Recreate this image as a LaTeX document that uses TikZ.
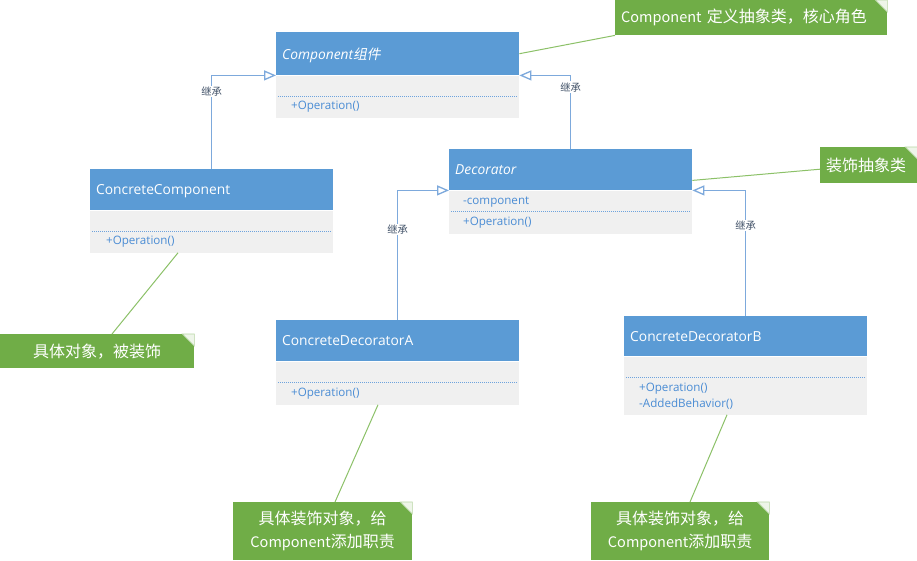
\documentclass[tikz,border=0pt]{standalone}
\usepackage{fontspec}
\setmainfont{Open Sans}
\newfontfamily\cjk{Noto Sans CJK SC}
\newfontfamily\cjkit[FakeSlant=0.2]{Noto Sans CJK SC}
\usetikzlibrary{arrows.meta,calc}
\definecolor{hdrblue}{HTML}{5B9BD5}
\definecolor{bodygray}{HTML}{F0F0F0}
\definecolor{memblue}{HTML}{4A8CD4}
\definecolor{linkblue}{HTML}{7DA9DC}
\definecolor{notegreen}{HTML}{70AD47}
\definecolor{notelink}{HTML}{8CC168}
\definecolor{foldpale}{HTML}{EEF5E9}
\definecolor{labelgray}{HTML}{44546A}
\newcommand\notefold[1]{%
  \filldraw[fill=foldpale, draw=notegreen!50, line width=0.6pt]
    ([xshift=-12pt]#1.north east) -- (#1.north east) -- ([yshift=-12pt]#1.north east) -- cycle;}
\newcommand\latcomp{{\fontsize{14.5}{23}\selectfont Component}}
\begin{document}
\begin{tikzpicture}[x=1pt,y=-1pt,
  hdr/.style={rectangle, fill=hdrblue, anchor=north west, text=white,
    font=\fontsize{13.8}{16}\selectfont, align=left, text width=231pt,
    text height=12pt, text depth=1.5pt,
    inner xsep=6pt, inner ysep=0pt},
  cbody/.style={rectangle, fill=bodygray, anchor=north west, minimum width=243pt, inner sep=0pt},
  member/.style={anchor=west, inner sep=0pt, text=memblue, font=\fontsize{11.6}{14}\selectfont},
  sepline/.style={draw=memblue!80, dash pattern=on 1pt off 1pt, line width=0.9pt},
  inherit/.style={draw=linkblue, line width=1.3pt, -{Triangle[open, length=12pt, width=10pt, fill=white]}},
  inhlabel/.style={fill=white, text=labelgray, font=\cjk\fontsize{10.3}{12}\selectfont, inner sep=1pt},
  note/.style={rectangle, fill=notegreen, anchor=north west, text=white,
    font=\cjk\fontsize{16}{23}\selectfont, inner sep=0pt},
  notelinkst/.style={draw=notelink, line width=1pt}
]
\fill[white] (0,0) rectangle (917,560);
\useasboundingbox (0,0) rectangle (917,560);

% Component
\node[hdr, minimum height=43pt, text height=11pt, text depth=0pt] (comph) at (276,32) {\itshape Component\cjkit 组件};
\node[cbody, minimum height=42pt] (compb) at (comph.south west) {};
\draw[sepline] ($(compb.north west)+(2,21)$) -- ($(compb.north east)+(-3,21)$);
\node[member] (compop) at ($(compb.north west)+(15,31)$) {+Operation()};

% Decorator
\node[hdr, minimum height=41pt] (dech) at (449,149) {\itshape Decorator};
\node[cbody, minimum height=43pt] (decb) at (dech.south west) {};
\node[member] (decat) at ($(decb.north west)+(14,12)$) {-component};
\draw[sepline] ($(decb.north west)+(2,21)$) -- ($(decb.north east)+(-3,21)$);
\node[member] (decop) at ($(decb.north west)+(14,32)$) {+Operation()};

% ConcreteComponent
\node[hdr, minimum height=41pt] (cch) at (90,169) {ConcreteComponent};
\node[cbody, minimum height=42pt] (ccb) at (cch.south west) {};
\draw[sepline] ($(ccb.north west)+(2,21)$) -- ($(ccb.north east)+(-3,21)$);
\node[member] (ccop) at ($(ccb.north west)+(16,31)$) {+Operation()};

% ConcreteDecoratorA
\node[hdr, minimum height=41pt] (cdah) at (276,320) {ConcreteDecoratorA};
\node[cbody, minimum height=43pt] (cdab) at (cdah.south west) {};
\draw[sepline] ($(cdab.north west)+(2,21)$) -- ($(cdab.north east)+(-3,21)$);
\node[member] (cdaop) at ($(cdab.north west)+(15,32)$) {+Operation()};

% ConcreteDecoratorB
\node[hdr, minimum height=40pt] (cdbh) at (624,316) {ConcreteDecoratorB};
\node[cbody, minimum height=58pt] (cdbb) at (cdbh.south west) {};
\draw[sepline] ($(cdbb.north west)+(2,21)$) -- ($(cdbb.north east)+(-3,21)$);
\node[member] (cdbop) at ($(cdbb.north west)+(15,32)$) {+Operation()};
\node[member] (cdbadd) at ($(cdbb.north west)+(15,48)$) {-AddedBehavior()};

% inheritance
\draw[inherit] (cch.north) |- node[inhlabel, pos=0.415] {继承} (comph.south west);
\draw[inherit] (dech.north) |- node[inhlabel, pos=0.42] {继承} (comph.south east);
\draw[inherit] (cdah.north) |- node[inhlabel, pos=0.35] {继承} (dech.south west);
\draw[inherit] (cdbh.north) |- node[inhlabel, pos=0.36] {继承} (dech.south east);

% notes
\node[note, minimum height=35pt, text width=260pt, inner xsep=6pt, align=left] (n1) at (615,0)
  {\latcomp{} 定义抽象类，核心角色};
\notefold{n1}
\node[note, minimum height=36pt, text width=85pt, inner xsep=6pt, align=left] (n2) at (820,147)
  {装饰抽象类};
\notefold{n2}
\node[note, minimum width=194pt, minimum height=34pt, align=center] (n3) at (0,334)
  {具体对象，被装饰};
\notefold{n3}
\node[note, minimum width=179pt, minimum height=58pt, align=center] (n4) at (233,502)
  {具体装饰对象，给\\\latcomp{}添加职责};
\notefold{n4}
\node[note, minimum width=178pt, minimum height=58pt, align=center] (n5) at (591,502)
  {具体装饰对象，给\\\latcomp{}添加职责};
\notefold{n5}

% note connectors
\draw[notelinkst] (comph.east) -- (n1.south west);
\draw[notelinkst] ([yshift=10pt]dech.south east) -- ([yshift=-4pt]n2.west);
\draw[notelinkst] ($(ccb.south west)+(88,0)$) -- ($(n3.north west)+(112,0)$);
\draw[notelinkst] ($(cdab.south west)+(102,0)$) -- ($(n4.north west)+(102,0)$);
\draw[notelinkst] ($(cdbb.south west)+(103,0)$) -- ($(n5.north west)+(99,0)$);
\end{tikzpicture}
\end{document}
